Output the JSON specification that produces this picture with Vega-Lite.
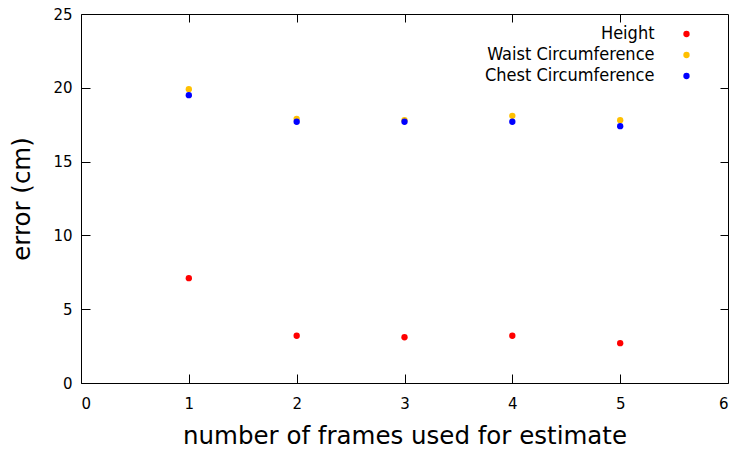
{
  "$schema": "https://vega.github.io/schema/vega-lite/v6.json",
  "width": 647,
  "height": 369,
  "autosize": {"type": "none"},
  "padding": {"left": 81, "top": 14, "right": 3, "bottom": 69},
  "background": "white",
  "config": {
    "view": {"stroke": "black", "strokeWidth": 1},
    "font": "DejaVu Sans",
    "axis": {"grid": false, "domain": false, "tickColor": "black", "labelColor": "black", "titleColor": "black", "labelFont": "DejaVu Sans", "titleFont": "DejaVu Sans", "titleFontWeight": "normal"}
  },
  "data": {
    "values": [
      {"frames": 1, "series": "Height", "error": 7.1},
      {"frames": 2, "series": "Height", "error": 3.2},
      {"frames": 3, "series": "Height", "error": 3.1},
      {"frames": 4, "series": "Height", "error": 3.2},
      {"frames": 5, "series": "Height", "error": 2.7},
      {"frames": 1, "series": "Waist Circumference", "error": 19.9},
      {"frames": 2, "series": "Waist Circumference", "error": 17.9},
      {"frames": 3, "series": "Waist Circumference", "error": 17.8},
      {"frames": 4, "series": "Waist Circumference", "error": 18.1},
      {"frames": 5, "series": "Waist Circumference", "error": 17.8},
      {"frames": 1, "series": "Chest Circumference", "error": 19.5},
      {"frames": 2, "series": "Chest Circumference", "error": 17.7},
      {"frames": 3, "series": "Chest Circumference", "error": 17.7},
      {"frames": 4, "series": "Chest Circumference", "error": 17.7},
      {"frames": 5, "series": "Chest Circumference", "error": 17.4}
    ]
  },
  "layer": [
    {
      "mark": {"type": "point", "filled": true, "size": 40, "opacity": 1},
      "encoding": {
        "x": {"field": "frames", "type": "quantitative", "scale": {"domain": [0, 6], "nice": false},
          "axis": {"orient": "bottom", "offset": -9, "values": [0,1,2,3,4,5,6], "tickSize": 9, "labelPadding": 13, "labelFontSize": 15, "title": "number of frames used for estimate", "titleFontSize": 24.5, "titlePadding": 13}},
        "y": {"field": "error", "type": "quantitative", "scale": {"domain": [0, 25], "nice": false},
          "axis": {"orient": "left", "offset": -9, "values": [0,5,10,15,20,25], "tickSize": 9, "labelPadding": 9, "labelFontSize": 15, "title": "error (cm)", "titleFontSize": 24.5, "titlePadding": 18}},
        "color": {"field": "series", "type": "nominal",
          "scale": {"domain": ["Height", "Waist Circumference", "Chest Circumference"], "range": ["#ff0000", "#ffc000", "#0000ff"]},
          "legend": {"title": null, "orient": "none", "legendX": 596.5, "legendY": 11, "padding": 0, "labelAlign": "right", "labelOffset": -41, "labelFont": "DejaVu Sans Condensed, DejaVu Sans", "labelFontSize": 18, "labelColor": "black", "labelLimit": 400, "rowPadding": 3, "symbolSize": 40, "symbolType": "circle", "symbolStrokeWidth": 0}}
      }
    },
    {
      "mark": {"type": "point", "opacity": 0},
      "encoding": {
        "x": {"field": "frames", "type": "quantitative", "axis": {"orient": "top", "offset": -8, "values": [1,2,3,4,5], "tickSize": 8, "labels": false, "title": null}},
        "y": {"field": "error", "type": "quantitative", "axis": {"orient": "right", "offset": -8, "values": [5,10,15,20], "tickSize": 8, "labels": false, "title": null}}
      }
    }
  ],
  "resolve": {"axis": {"x": "independent", "y": "independent"}}
}
